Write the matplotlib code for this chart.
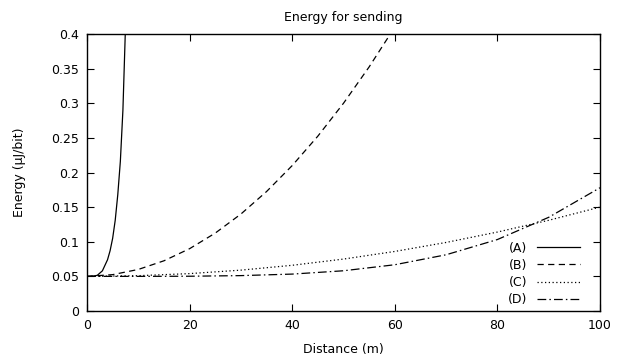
import matplotlib
matplotlib.use("Agg")
import matplotlib.pyplot as plt

# Data
dist_a = [0, 1, 2, 3, 4, 4.5, 5, 5.5, 6, 6.5, 7, 7.5]
energy_a = [0.05, 0.0501, 0.0515, 0.058, 0.074, 0.087, 0.105, 0.131, 0.168, 0.216, 0.29, 0.41]

dist_b = [0, 5, 10, 15, 20, 25, 30, 35, 40, 45, 50, 55, 60]
energy_b = [0.05, 0.0525, 0.06, 0.0725, 0.09, 0.1125, 0.14, 0.1725, 0.21, 0.2525, 0.30, 0.3525, 0.41]

dist_c = [0, 10, 20, 30, 40, 50, 60, 70, 80, 90, 100]
energy_c = [0.05, 0.051, 0.054, 0.059, 0.066, 0.075, 0.086, 0.099, 0.114, 0.131, 0.15]

dist_d = [0, 10, 20, 30, 40, 50, 60, 70, 80, 90, 100]
energy_d = [0.05, 0.05001, 0.0502, 0.0511, 0.0533, 0.0581, 0.0668, 0.0812, 0.1032, 0.1353, 0.178]

labels = ["(A)", "(B)", "(C)", "(D)"]
x_ticks = [0, 20, 40, 60, 80, 100]
y_ticks = [0, 0.05, 0.1, 0.15, 0.2, 0.25, 0.3, 0.35, 0.4]
y_tick_labels = ["0", "0.05", "0.1", "0.15", "0.2", "0.25", "0.3", "0.35", "0.4"]

plt.rcParams['font.family'] = ['DejaVu Sans']
fig = plt.figure(figsize=(6.22, 3.58), dpi=100)
ax = fig.add_axes([87 / 622, 1 - 311 / 358, (600 - 87) / 622, (311 - 34) / 358])

lw = 0.9
ax.plot(dist_a, energy_a, color='black', lw=lw, linestyle='-', label=labels[0])
ax.plot(dist_b, energy_b, color='black', lw=lw, linestyle=(0, (5, 3.5)), label=labels[1])
ax.plot(dist_c, energy_c, color='black', lw=lw, linestyle=(0, (1, 2)), label=labels[2])
ax.plot(dist_d, energy_d, color='black', lw=lw, linestyle=(0, (7, 2.5, 1.2, 2.5)), label=labels[3])

ax.set_xlim(0, 100)
ax.set_ylim(0, 0.4)
ax.set_xticks(x_ticks)
ax.set_yticks(y_ticks)
ax.set_yticklabels(y_tick_labels)
ax.tick_params(direction='in', length=5, width=0.8, labelsize=9, top=True, right=True, pad=6)
for s in ax.spines.values():
    s.set_linewidth(1.0)

ax.set_title("Energy for sending", fontsize=9, pad=9.5)
ax.set_xlabel("Distance (m)", fontsize=9, labelpad=8)
ax.set_ylabel("Energy (µJ/bit)", fontsize=9, labelpad=18)

leg = ax.legend(loc='lower right', bbox_to_anchor=(0.971, 0.0), frameon=False,
                markerfirst=False, fontsize=9, handlelength=3.45, labelspacing=0.33,
                borderaxespad=0.0, handletextpad=0.8)
for t in leg.get_texts():
    t.set_ha('right')

fig.savefig("out.png", dpi=100)
